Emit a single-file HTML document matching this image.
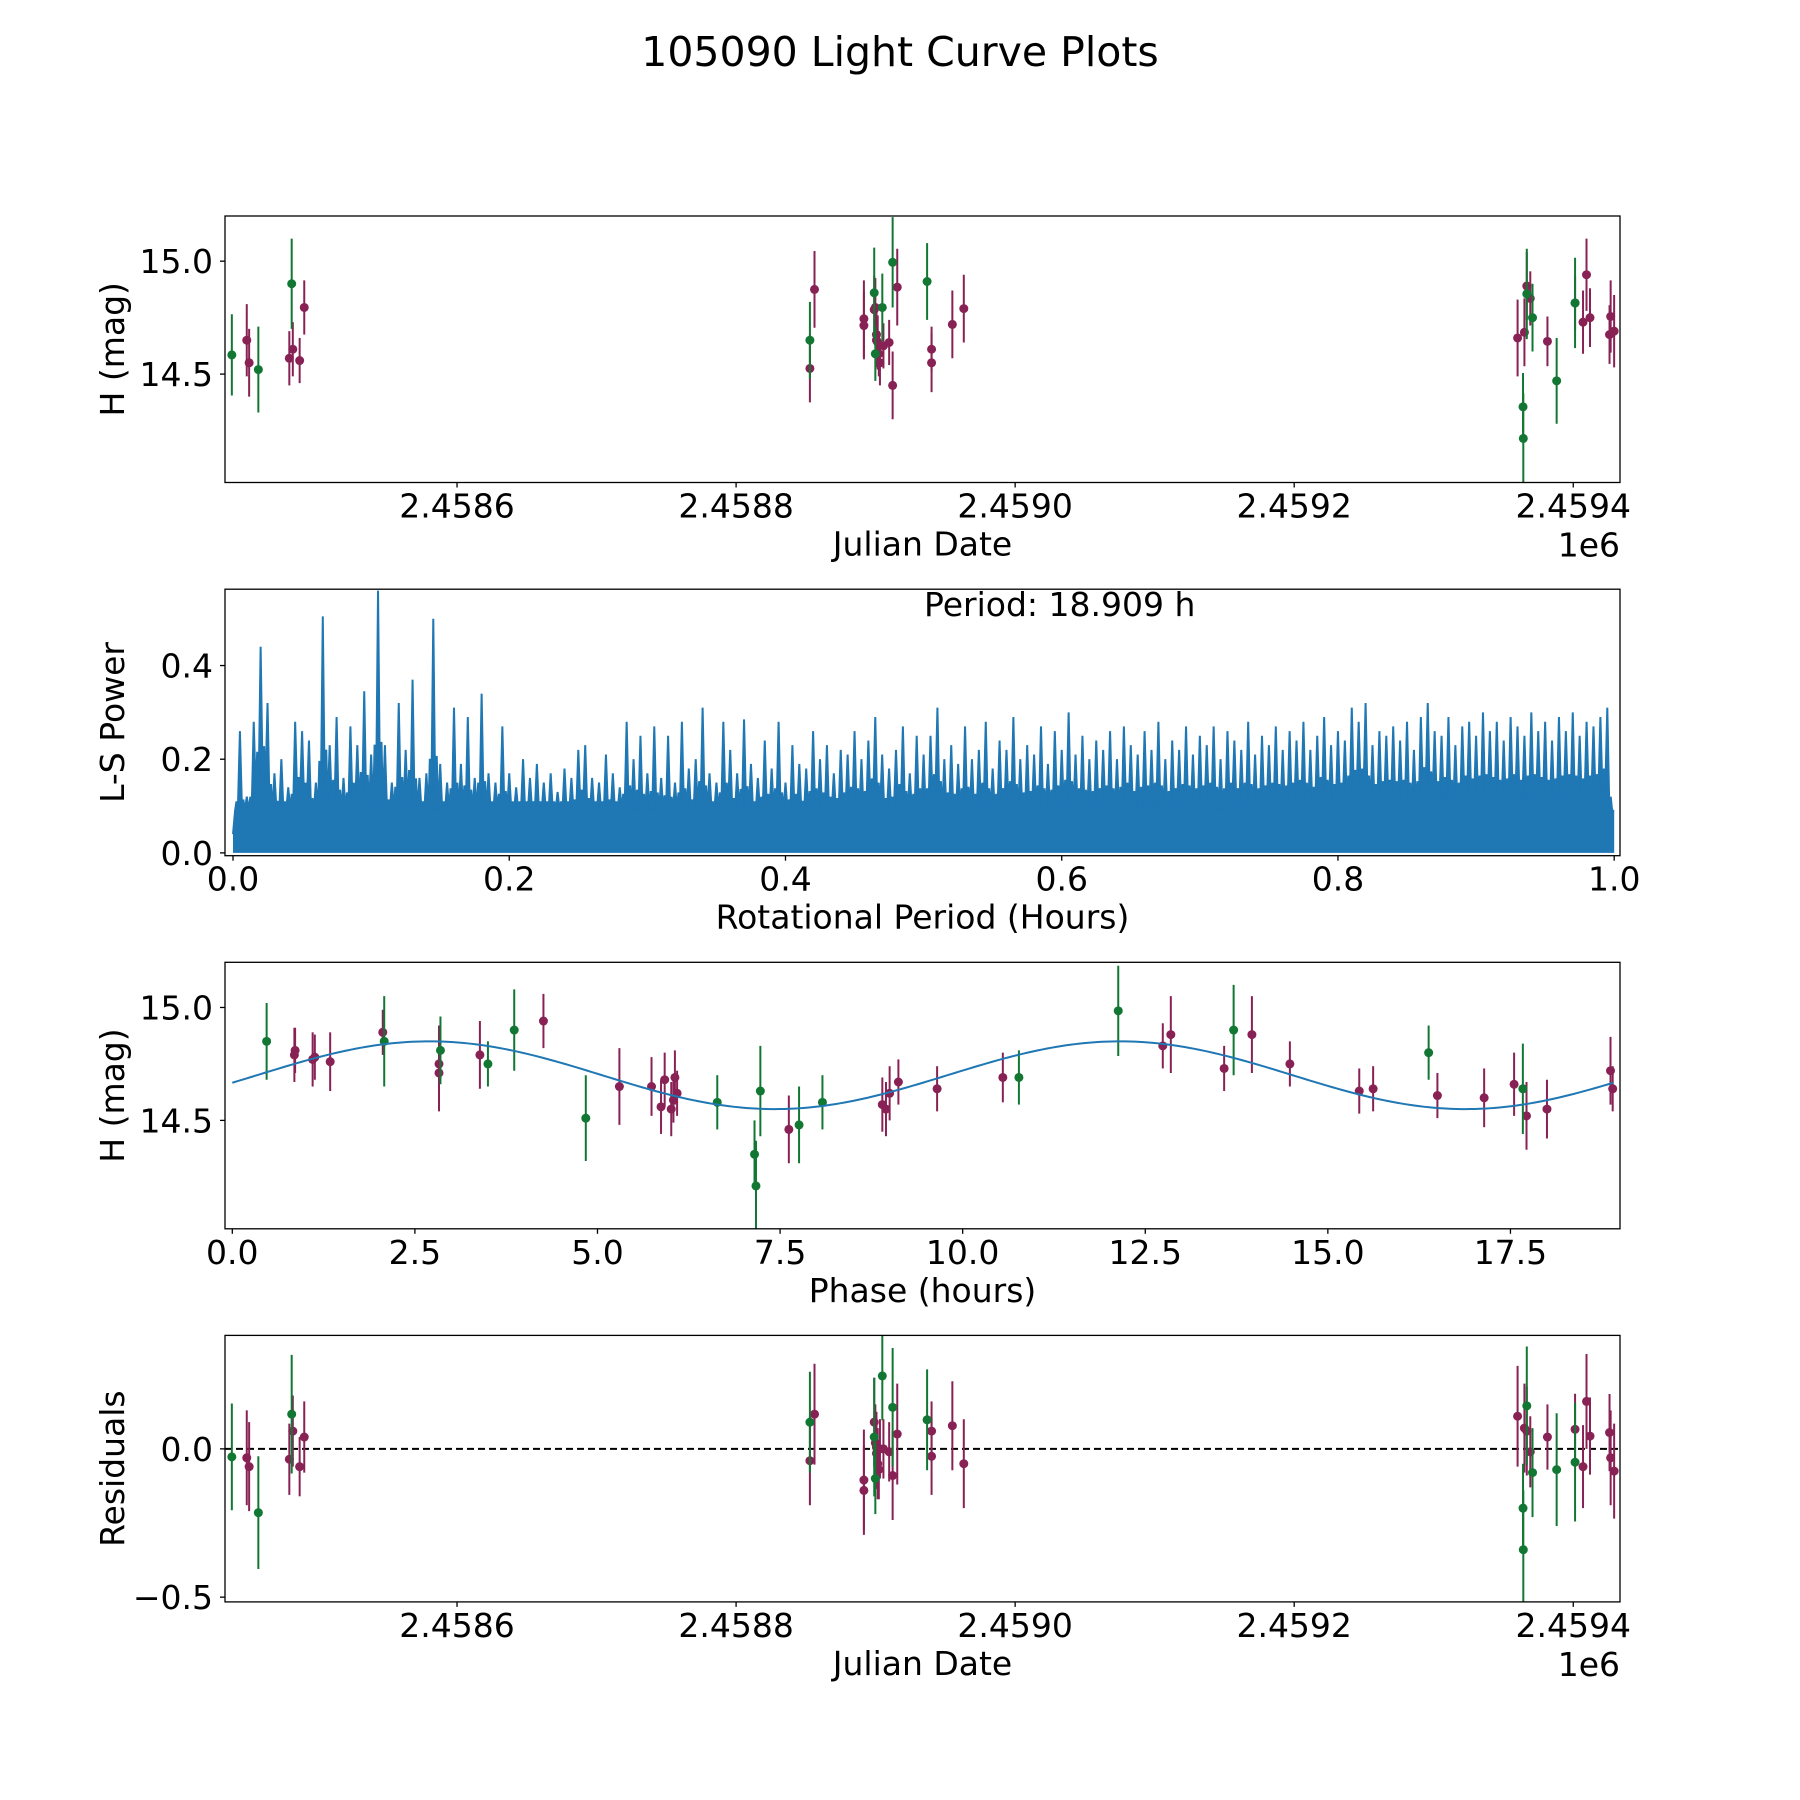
<!DOCTYPE html>
<html><head><meta charset="utf-8"><title>105090 Light Curve Plots</title>
<style>html,body{margin:0;padding:0;background:#fff}svg{display:block}text{font-family:"DejaVu Sans","Liberation Sans",sans-serif;fill:#000}</style>
</head><body>
<svg id="fig" width="1800" height="1800" viewBox="0 0 1800 1800" xmlns="http://www.w3.org/2000/svg">
<rect width="1800" height="1800" fill="#fff"/>
<text x="900" y="66" font-size="41" text-anchor="middle">105090 Light Curve Plots</text>
</svg>
<script>
// ---- Panel 1 / 4 data (JD - 2458000) ----
const jdG  = [438.6,457.6,481.5,852.9,899.0,899.8,904.8,912.2,936.9,1364.2,1364.0,1366.7,1370.8,1388.1,1401.3];
const magG = [14.585,14.52,14.90,14.65,14.86,14.59,14.795,14.995,14.91,14.215,14.355,14.855,14.75,14.47,14.815];
const errG = [0.18,0.19,0.2,0.17,0.2,0.12,0.15,0.2,0.17,0.2,0.15,0.2,0.15,0.19,0.2];
const resG = [-0.027,-0.215,0.117,0.09,0.04,-0.1,0.246,0.14,0.098,-0.34,-0.2,0.145,-0.08,-0.07,-0.045];
const jdM  = [449.3,451.0,479.8,482.3,487.2,490.5,852.9,856.2,891.6,891.6,899.0,899.8,900.6,900.6,901.5,902.3,903.1,905.6,909.7,912.2,915.5,940.1,940.1,955.0,963.2,1360.1,1365.0,1366.7,1369.2,1381.5,1401.3,1407.0,1409.5,1412.0,1426.0,1426.8,1429.3];
const magM = [14.65,14.55,14.57,14.61,14.56,14.795,14.525,14.875,14.745,14.715,14.785,14.795,14.675,14.65,14.64,14.59,14.55,14.625,14.64,14.45,14.885,14.61,14.55,14.72,14.79,14.66,14.685,14.89,14.835,14.645,14.815,14.73,14.94,14.75,14.675,14.755,14.69];
const errM = [0.16,0.15,0.12,0.12,0.1,0.12,0.15,0.17,0.17,0.15,0.15,0.13,0.12,0.12,0.12,0.1,0.1,0.1,0.1,0.15,0.17,0.1,0.13,0.15,0.15,0.17,0.15,0.15,0.12,0.11,0.12,0.14,0.16,0.13,0.13,0.16,0.16];
const resM = [-0.03,-0.06,-0.035,0.06,-0.06,0.04,-0.04,0.117,-0.105,-0.14,0.09,0.02,0.005,-0.015,-0.05,-0.07,0,0,-0.01,-0.09,0.05,0.06,-0.025,0.078,-0.05,0.11,0.07,0.06,-0.01,0.04,0.066,-0.06,0.16,0.043,0.055,-0.03,-0.075];
const jdTicks = [600,800,1000,1200,1400];
const jdTickLabels = ["2.4586","2.4588","2.4590","2.4592","2.4594"];
// ---- Periodogram data (period 0..1 step 0.005) ----
const lsPower = [.04,.26,.12,.28,.44,.32,.17,.2,.14,.28,
.26,.24,.15,.505,.23,.29,.16,.27,.23,.345,
.21,.56,.23,.15,.32,.22,.37,.16,.17,.50,
.19,.15,.31,.19,.29,.16,.34,.17,.15,.27,
.17,.14,.2,.16,.19,.15,.17,.13,.18,.16,
.22,.23,.16,.15,.21,.17,.14,.28,.2,.25,
.17,.27,.16,.25,.15,.28,.18,.2,.31,.17,
.15,.28,.22,.17,.285,.19,.16,.24,.18,.28,
.15,.23,.19,.18,.26,.2,.23,.17,.22,.21,
.26,.2,.24,.29,.21,.18,.22,.27,.17,.25,
.21,.25,.31,.2,.23,.19,.27,.2,.22,.28,
.18,.24,.22,.29,.2,.23,.21,.27,.19,.26,
.22,.3,.21,.25,.2,.24,.22,.26,.2,.27,
.23,.21,.26,.22,.28,.2,.24,.22,.27,.21,
.25,.23,.27,.2,.26,.24,.22,.28,.21,.25,
.23,.27,.22,.26,.24,.28,.22,.25,.29,.23,
.26,.24,.31,.28,.32,.23,.26,.25,.27,.24,
.28,.22,.29,.32,.26,.25,.29,.23,.27,.28,
.25,.3,.26,.28,.24,.29,.27,.25,.3,.26,
.28,.24,.29,.26,.3,.25,.28,.27,.29,.31,.09];
const lsStart = 0.0, lsStep = 0.005;
const lsTicks = [0,0.2,0.4,0.6,0.8,1.0];
const lsTickLabels = ["0.0","0.2","0.4","0.6","0.8","1.0"];
const lsYTicks = [0,0.2,0.4];
const lsYTickLabels = ["0.0","0.2","0.4"];
// ---- Phase-folded data ----
const phG = [0.47,2.08,2.85,3.50,3.86,4.84,6.64,7.15,7.17,7.23,7.76,8.08,10.77,12.13,13.71,16.38,17.67];
const pmG = [14.85,14.85,14.81,14.75,14.90,14.51,14.58,14.35,14.21,14.63,14.48,14.58,14.69,14.985,14.90,14.80,14.64];
const peG = [0.17,0.2,0.15,0.1,0.18,0.19,0.12,0.15,0.2,0.2,0.17,0.12,0.12,0.2,0.2,0.12,0.2];
const phM = [0.85,0.86,1.10,1.13,1.34,2.06,2.83,2.83,3.39,4.26,5.30,5.74,5.87,5.92,6.01,6.04,6.06,6.09,7.62,8.90,8.95,9.00,9.12,9.65,10.55,12.74,12.85,13.58,13.96,14.48,15.43,15.62,16.50,17.14,17.55,17.72,18.00,18.87,18.90];
const pmM = [14.79,14.81,14.77,14.78,14.76,14.89,14.75,14.71,14.79,14.94,14.65,14.65,14.56,14.68,14.55,14.59,14.69,14.62,14.46,14.57,14.55,14.62,14.67,14.64,14.69,14.83,14.88,14.73,14.88,14.75,14.63,14.64,14.61,14.60,14.66,14.52,14.55,14.72,14.64];
const peM = [0.12,0.1,0.12,0.1,0.13,0.1,0.17,0.17,0.15,0.12,0.17,0.13,0.12,0.12,0.12,0.1,0.12,0.1,0.15,0.12,0.12,0.12,0.1,0.1,0.11,0.1,0.17,0.1,0.17,0.1,0.1,0.1,0.1,0.13,0.14,0.15,0.13,0.15,0.1];
const fitParams = [14.70, 0.15, 2.7, 18.909]; // mean, amplitude, peak phase, period (h)
const phTicks = [0,2.5,5,7.5,10,12.5,15,17.5];
const phTickLabels = ["0.0","2.5","5.0","7.5","10.0","12.5","15.0","17.5"];
const magTicks = [14.5,15.0];
const magTickLabels = ["14.5","15.0"];
const resTicks = [-0.5,0];
const resTickLabels = ["\u22120.5","0.0"];

const NS="http://www.w3.org/2000/svg";
const fig=document.getElementById('fig');
const GREEN="#117733", MAG="#882255", BLUE="#1f77b4";
function el(tag,attrs,parent){const e=document.createElementNS(NS,tag);for(const k in attrs)e.setAttribute(k,attrs[k]);(parent||fig).appendChild(e);return e;}
const L=225,R=1620,H=266.5;
const tops=[216,589.2,962.3,1335.4];
function lin(d0,d1,r0,r1){return v=>r0+(v-d0)/(d1-d0)*(r1-r0);}

function axesFrame(i,name){
  const g=el('g',{});
  
  
  return g;
}
function drawFrame(g,top){
  const r=el('rect',{x:L,y:top,width:R-L,height:H,fill:'none',stroke:'#000','stroke-width':1.3},g);
  
  
}
function xTicks(g,top,sx,vals,labels){
  const b=top+H;
  vals.forEach((v,i)=>{
    const x=sx(v);
    el('line',{x1:x,x2:x,y1:b,y2:b+5,stroke:'#000','stroke-width':1.3},g);
    const t=el('text',{x:x,y:b+35,'font-size':33,'text-anchor':'middle'},g);
    
    
    t.textContent=labels[i];
  });
}
function yTicks(g,top,sy,vals,labels){
  vals.forEach((v,i)=>{
    const y=sy(v);
    el('line',{x1:L-5,x2:L,y1:y,y2:y,stroke:'#000','stroke-width':1.3},g);
    const t=el('text',{x:213,y:y+12,'font-size':33,'text-anchor':'end'},g);
    
    
    t.textContent=labels[i];
  });
}
function xLabel(g,top,txt){
  const t=el('text',{x:(L+R)/2,y:top+H+73,'font-size':33,'text-anchor':'middle'},g);
  
  
  t.textContent=txt;
}
function yLabel(g,top,txt){
  const cy=top+H/2;
  const t=el('text',{x:0,y:0,'font-size':33,'text-anchor':'middle',transform:`translate(124,${cy}) rotate(-90)`},g);
  
  
  t.textContent=txt;
}
function errPoints(g,xs,ys,es,col,sx,sy,name){
  xs.forEach((xv,i)=>{
    const x=sx(xv);
    const bar=el('line',{x1:x,x2:x,y1:sy(ys[i]-es[i]),y2:sy(ys[i]+es[i]),stroke:col,'stroke-width':2},g);
    
    
    const c=el('circle',{cx:x,cy:sy(ys[i]),r:4.5,fill:col},g);
    
    
  });
}
function clip(id,top){
  const d=el('clipPath',{id:id});
  el('rect',{x:L,y:top,width:R-L,height:H},d);
}
const sxJD=lin(433.7,1433.5,L,R);

// Panel 1
{
  const top=tops[0];const g=axesFrame(0,'light-curve-panel');
  clip('c1',top);
  const sy=lin(14.02,15.2,top+H,top);
  const pg=el('g',{'clip-path':'url(#c1)'},g);
  errPoints(pg,jdM,magM,errM,MAG,sxJD,sy,'magenta');
  errPoints(pg,jdG,magG,errG,GREEN,sxJD,sy,'green');
  drawFrame(g,top);
  xTicks(g,top,sxJD,jdTicks,jdTickLabels);
  yTicks(g,top,sy,magTicks,magTickLabels);
  xLabel(g,top,'Julian Date');yLabel(g,top,'H (mag)');
  const o=el('text',{x:R,y:top+H+74,'font-size':33,'text-anchor':'end'},g);
  
  
  o.textContent='1e6';
}
// Panel 2 periodogram
{
  const top=tops[1];const g=axesFrame(1,'periodogram-panel');
  clip('c2',top);
  const sx=lin(-0.0058,1.0042,L,R);
  const sy=lin(-0.006,0.563,top+H,top);
  const pg=el('g',{'clip-path':'url(#c2)'},g);
  const y0=sy(0);
  let d=`M${sx(lsStart)},${y0}`;
  let dl='';
  lsPower.forEach((v,i)=>{
    const x=sx(lsStart+i*lsStep);
    d+=` L${x},${sy(v)}`;
    dl+=`${i?'L':'M'}${x},${sy(v)} `;
    if(i<lsPower.length-1){
      const nv=lsPower[i+1];
      const q1=sx(lsStart+(i+0.3)*lsStep), q2=sx(lsStart+(i+0.5)*lsStep), q3=sx(lsStart+(i+0.7)*lsStep);
      const lo=Math.max(0.09,Math.min(v,nv)*0.45);
      const mid=Math.max(lo+0.02,(v+nv)*0.3);
      d+=` L${q1},${sy(lo)} L${q2},${sy(mid)} L${q3},${sy(lo)}`;
      dl+=`L${q1},${sy(lo)} L${q2},${sy(mid)} L${q3},${sy(lo)} `;
    }
  });
  d+=` L${sx(lsStart+(lsPower.length-1)*lsStep)},${y0} Z`;
  const area=el('path',{d:d,fill:BLUE,stroke:'none'},pg);
  
  
  const ln=el('path',{d:dl,fill:'none',stroke:BLUE,'stroke-width':2},pg);
  
  
  drawFrame(g,top);
  xTicks(g,top,sx,lsTicks,lsTickLabels);
  yTicks(g,top,sy,lsYTicks,lsYTickLabels);
  xLabel(g,top,'Rotational Period (Hours)');yLabel(g,top,'L-S Power');
  const t=el('text',{x:924,y:616,'font-size':33},g);
  
  
  t.textContent='Period: 18.909 h';
}
// Panel 3 phase folded
{
  const top=tops[2];const g=axesFrame(2,'phase-folded-panel');
  clip('c3',top);
  const sx=lin(-0.1,19.0,L,R);
  const sy=lin(14.02,15.2,top+H,top);
  const pg=el('g',{'clip-path':'url(#c3)'},g);
  errPoints(pg,phM,pmM,peM,MAG,sx,sy,'magenta');
  errPoints(pg,phG,pmG,peG,GREEN,sx,sy,'green');
  let d='';
  const per=fitParams[3];
  for(let k=0;k<=300;k++){
    const p=per*k/300;
    const m=fitParams[0]+fitParams[1]*Math.cos(2*Math.PI*(p-fitParams[2])/(per/2));
    d+=`${k?'L':'M'}${sx(p)},${sy(m)} `;
  }
  const fl=el('path',{d:d,fill:'none',stroke:BLUE,'stroke-width':2},pg);
  
  
  drawFrame(g,top);
  xTicks(g,top,sx,phTicks,phTickLabels);
  yTicks(g,top,sy,magTicks,magTickLabels);
  xLabel(g,top,'Phase (hours)');yLabel(g,top,'H (mag)');
}
// Panel 4 residuals
{
  const top=tops[3];const g=axesFrame(3,'residuals-panel');
  clip('c4',top);
  const sy=lin(-0.516,0.3826,top+H,top);
  const pg=el('g',{'clip-path':'url(#c4)'},g);
  const zl=el('line',{x1:L,x2:R,y1:sy(0),y2:sy(0),stroke:'#000','stroke-width':2,'stroke-dasharray':'7,4'},pg);
  
  
  errPoints(pg,jdM,resM,errM,MAG,sxJD,sy,'magenta');
  errPoints(pg,jdG,resG,errG,GREEN,sxJD,sy,'green');
  drawFrame(g,top);
  xTicks(g,top,sxJD,jdTicks,jdTickLabels);
  yTicks(g,top,sy,resTicks,resTickLabels);
  xLabel(g,top,'Julian Date');yLabel(g,top,'Residuals');
  const o=el('text',{x:R,y:top+H+74,'font-size':33,'text-anchor':'end'},g);
  
  
  o.textContent='1e6';
}
</script>
</body></html>
